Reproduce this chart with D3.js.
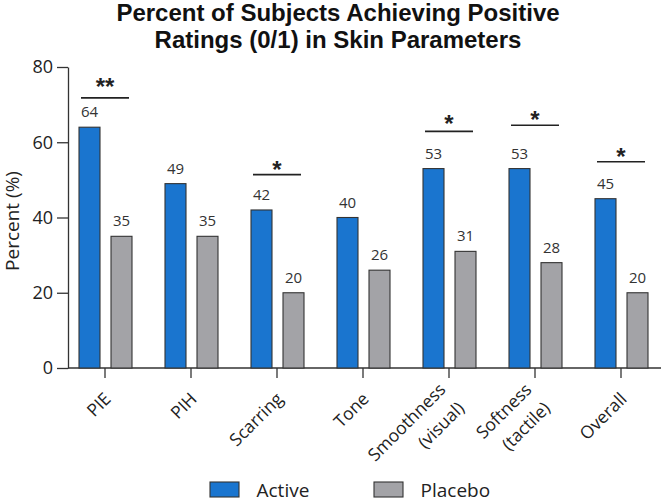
<!DOCTYPE html>
<html>
<head>
<meta charset="utf-8">
<script src="https://cdn.jsdelivr.net/npm/d3@7"></script>
<style>
  body { margin: 0; background: #fff; }
  svg text { font-family: "Open Sans", sans-serif; fill: #222; }
</style>
</head>
<body>
<div id="chart"></div>
<script>
const width = 661,
    height = 502;

// data
const categories = ["PIE", "PIH", "Scarring", "Tone", "Smoothness\n(visual)", "Softness\n(tactile)", "Overall"];
const groups = ["Active", "Placebo"];
const activeValues = [64, 49, 42, 40, 53, 53, 45];
const placeboValues = [35, 35, 20, 26, 31, 28, 20];
const yTicks = [0, 20, 40, 60, 80];

// significance brackets: category, stars, bar level and star level (percent units)
const sigCategories = ["PIE", "Scarring", "Smoothness\n(visual)", "Softness\n(tactile)", "Overall"];
const sigStars = ["**", "*", "*", "*", "*"];
const sigLineLevel = [71.8, 51.4, 62.9, 64.5, 54.8];
const sigStarLevel = [76.3, 54.3, 66.4, 67.6, 57.6];

const colors = { Active: "#1a75cf", Placebo: "#a3a3a7" };

const axisLeft = 68;

const svg = d3.select("#chart").append("svg")
    .attr("width", width)
    .attr("height", height);

const x = d3.scaleBand().domain(categories).range([62, 664]).padding(0);
const xSub = d3.scaleBand().domain(groups).range([-26, 27]).paddingInner(0.344).paddingOuter(0);
const y = d3.scaleLinear().domain([0, 80]).range([368, 67]);
const cx = c => x(c) + x.bandwidth() / 2;

// title
const title = svg.append("text")
    .attr("text-anchor", "middle")
    .style("font-family", "'Liberation Sans', Arial, sans-serif")
    .style("font-weight", "bold")
    .style("font-size", "24px")
    .style("fill", "#111");
title.append("tspan").attr("x", 338).attr("y", 21).text("Percent of Subjects Achieving Positive");
title.append("tspan").attr("x", 338).attr("y", 48).text("Ratings (0/1) in Skin Parameters");

// y axis
const yAxis = svg.append("g")
    .attr("transform", `translate(${axisLeft},0)`)
    .call(d3.axisLeft(y).tickValues(yTicks).tickSize(11).tickPadding(4).tickSizeOuter(0));
yAxis.selectAll("text").style("font-size", "18px").style("fill", "#222");
yAxis.selectAll("line, path").attr("stroke", "#333").attr("stroke-width", 1.3);

svg.append("text")
    .attr("transform", `translate(19,221) rotate(-90)`)
    .attr("text-anchor", "middle")
    .style("font-size", "19px")
    .text("Percent (%)");

// x axis
svg.append("line")
    .attr("x1", axisLeft).attr("x2", width)
    .attr("y1", y(0)).attr("y2", y(0))
    .attr("stroke", "#333").attr("stroke-width", 1.3);

svg.append("g").selectAll("line")
    .data(categories)
    .join("line")
    .attr("x1", d => cx(d)).attr("x2", d => cx(d))
    .attr("y1", y(0)).attr("y2", y(0) + 10)
    .attr("stroke", "#333").attr("stroke-width", 1.3);

const xLabels = svg.append("g").selectAll("text")
    .data(categories)
    .join("text")
    .attr("transform", d => `translate(${cx(d) + 7},${y(0) + 32}) rotate(-45)`)
    .attr("text-anchor", "end")
    .style("font-size", "17.5px");
xLabels.each(function (d) {
    const lines = d.split("\n");
    const lh = 1.5;
    const start = -(lines.length - 1) * lh / 2;
    d3.select(this).selectAll("tspan")
        .data(lines)
        .join("tspan")
        .attr("x", 0)
        .attr("y", (l, i) => `${start + i * lh}em`)
        .text(l => l);
});

// bars
const rows = categories.map((c, i) => ({ cat: c, values: [activeValues[i], placeboValues[i]] }));

const catG = svg.append("g").selectAll("g")
    .data(rows)
    .join("g")
    .attr("transform", d => `translate(${cx(d.cat)},0)`);

catG.selectAll("rect")
    .data(d => groups.map((g, j) => ({ group: g, value: d.values[j] })))
    .join("rect")
    .attr("x", d => xSub(d.group))
    .attr("width", xSub.bandwidth())
    .attr("y", d => y(d.value))
    .attr("height", d => y(0) - y(d.value))
    .attr("fill", d => colors[d.group])
    .attr("stroke", "#333")
    .attr("stroke-width", 1.1);

catG.selectAll("text.val")
    .data(d => groups.map((g, j) => ({ group: g, value: d.values[j] })))
    .join("text")
    .attr("class", "val")
    .attr("x", d => xSub(d.group) + xSub.bandwidth() / 2)
    .attr("y", d => y(d.value) - 10)
    .attr("text-anchor", "middle")
    .style("font-size", "15px")
    .style("fill", "#333")
    .text(d => d.value);

// significance marks
const sig = svg.append("g").selectAll("g")
    .data(sigCategories.map((c, i) => ({ cat: c, stars: sigStars[i], line: sigLineLevel[i], star: sigStarLevel[i] })))
    .join("g");

sig.append("line")
    .attr("x1", d => cx(d.cat) - 24).attr("x2", d => cx(d.cat) + 24)
    .attr("y1", d => y(d.line)).attr("y2", d => y(d.line))
    .attr("stroke", "#222").attr("stroke-width", 1.6);

sig.append("text")
    .attr("x", d => cx(d.cat))
    .attr("y", d => y(d.star) + 14)
    .attr("text-anchor", "middle")
    .style("font-family", "'Liberation Sans', Arial, sans-serif")
    .style("font-weight", "bold")
    .style("font-size", "24px")
    .style("fill", "#222")
    .text(d => d.stars);

// legend
const legend = svg.append("g").selectAll("g")
    .data(groups)
    .join("g")
    .attr("transform", (d, i) => `translate(${i === 0 ? 210 : 374},482)`);

legend.append("rect")
    .attr("width", 29).attr("height", 15)
    .attr("fill", d => colors[d])
    .attr("stroke", "#333").attr("stroke-width", 1.1);

legend.append("text")
    .attr("x", 46.5).attr("y", 14.5)
    .style("font-size", "19px")
    .text(d => d);
</script>
</body>
</html>
